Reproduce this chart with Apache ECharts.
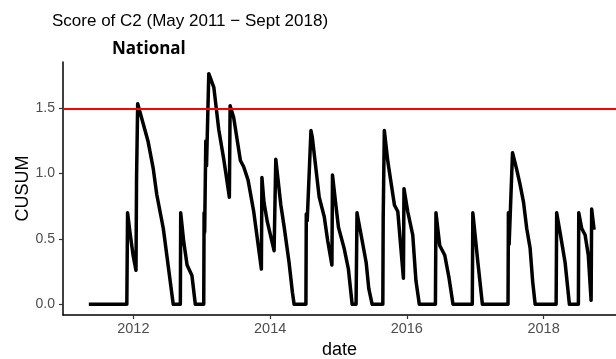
<!DOCTYPE html>
<html>
<head>
<meta charset="utf-8">
<script src="https://cdn.jsdelivr.net/npm/echarts@6/dist/echarts.min.js"></script>
<style>
  html, body { margin: 0; padding: 0; background: #fff; }
  #chart { width: 616px; height: 359px; }
</style>
</head>
<body>
<div id="chart"></div>
<script>
// ---- data ----
const dates = [
  "2011-05-08","2011-11-27","2011-12-01","2011-12-14","2011-12-30","2012-01-15","2012-01-18","2012-01-24",
  "2012-02-23","2012-03-19","2012-04-16","2012-05-05","2012-06-09","2012-08-01","2012-09-08","2012-09-10",
  "2012-09-26","2012-10-14","2012-11-09","2012-11-27","2013-01-11","2013-01-13","2013-01-16","2013-01-22",
  "2013-01-26","2013-02-07","2013-03-06","2013-04-01","2013-04-28","2013-05-28","2013-06-01","2013-06-20",
  "2013-07-26","2013-08-13","2013-09-05","2013-10-05","2013-11-15","2013-11-18","2013-11-29","2013-12-17",
  "2014-01-22","2014-01-31","2014-02-27","2014-03-16","2014-04-12","2014-04-30","2014-05-09","2014-07-11",
  "2014-07-13","2014-07-18","2014-08-07","2014-08-14","2014-09-20","2014-10-17","2014-11-04","2014-11-27",
  "2014-11-30","2014-12-18","2015-01-01","2015-01-31","2015-02-23","2015-03-15","2015-04-05","2015-04-10",
  "2015-05-02","2015-05-29","2015-06-12","2015-06-30","2015-08-26","2015-08-28","2015-09-03","2015-09-22",
  "2015-10-27","2015-11-14","2015-12-14","2015-12-17","2016-01-06","2016-02-02","2016-02-19","2016-03-08",
  "2016-06-02","2016-06-05","2016-06-25","2016-07-22","2016-08-14","2016-09-04","2016-12-16","2016-12-19",
  "2017-01-15","2017-02-08","2017-06-25","2017-06-27","2017-07-01","2017-07-19","2017-08-09","2017-08-28",
  "2017-09-16","2017-10-03","2017-10-21","2017-11-04","2017-11-17","2018-03-09","2018-03-12","2018-03-30",
  "2018-04-26","2018-05-19","2018-07-06","2018-07-08","2018-07-24","2018-08-11","2018-08-28","2018-09-12",
  "2018-09-15","2018-09-28"
];
const cusum = [
  0, 0, 0.70, 0.55, 0.38, 0.26, 0.96, 1.535,
  1.38, 1.25, 1.04, 0.84, 0.58, 0, 0, 0.70,
  0.48, 0.30, 0.22, 0, 0, 0.70, 0.55, 1.25,
  1.06, 1.765, 1.66, 1.34, 1.11, 0.82, 1.52, 1.43,
  1.10, 1.05, 0.95, 0.71, 0.27, 0.97, 0.78, 0.63,
  0.41, 1.11, 0.76, 0.60, 0.32, 0.09, 0, 0,
  0.69, 0.64, 1.33, 1.28, 0.82, 0.67, 0.49, 0.30,
  0.99, 0.76, 0.59, 0.43, 0.27, 0, 0, 0.70,
  0.53, 0.32, 0.12, 0, 0, 0.66, 1.33, 1.09,
  0.76, 0.71, 0.20, 0.885, 0.71, 0.53, 0.18, 0,
  0, 0.70, 0.45, 0.375, 0.20, 0, 0, 0.70,
  0.32, 0, 0, 0.70, 0.46, 1.16, 1.04, 0.92,
  0.78, 0.58, 0.43, 0.17, 0, 0, 0.70, 0.55,
  0.32, 0, 0, 0.70, 0.58, 0.53, 0.375, 0.03,
  0.73, 0.57
];
const threshold = 1.5;
const xTickDates = ["2012-01-01", "2014-01-01", "2016-01-01", "2018-01-01"];
const yTicks = [0, 0.5, 1.0, 1.5];
const titleText = "Score of C2 (May 2011 \u2212 Sept 2018)";
const subtitleText = "National";
const xName = "date";
const yName = "CUSUM";

// ---- chart ----
const ts = s => new Date(s + "T00:00:00Z").getTime();
const seriesData = dates.map((d, i) => [ts(d), cusum[i]]);

const chart = echarts.init(document.getElementById('chart'), null, { renderer: 'canvas' });
const font = "'Liberation Sans', Arial, sans-serif";
chart.setOption({
  animation: false,
  backgroundColor: '#ffffff',
  title: [
    { text: titleText, left: 52, top: 13, padding: 0,
      textStyle: { fontFamily: font, fontSize: 17, fontWeight: 'normal', color: '#000' } },
    { text: subtitleText, left: 112, top: 41, padding: 0,
      textStyle: { fontFamily: "'Open Sans', 'Noto Sans', sans-serif", fontSize: 17, fontWeight: 'bold', color: '#000' } }
  ],
  grid: { left: 63, right: 0, top: 62, bottom: 44, containLabel: false, outerBoundsMode: 'none' },
  xAxis: {
    type: 'value',
    min: ts("2010-12-21"),
    max: ts("2019-01-23"),
    name: xName,
    nameLocation: 'middle',
    nameGap: 26,
    nameMoveOverlap: false,
    nameTextStyle: { fontFamily: font, fontSize: 18, color: '#000' },
    axisLine: { show: true, onZero: false, lineStyle: { color: '#000', width: 1.5 } },
    axisTick: { show: true, customValues: xTickDates.map(ts), length: 4, lineStyle: { color: '#333', width: 1.2 } },
    axisLabel: {
      customValues: xTickDates.map(ts),
      formatter: v => String(new Date(v).getUTCFullYear()),
      fontFamily: font, fontSize: 14.5, color: '#4d4d4d', margin: 6
    },
    splitLine: { show: false }
  },
  yAxis: {
    type: 'value',
    min: -0.082,
    max: 1.854,
    name: yName,
    nameLocation: 'middle',
    nameGap: 31,
    nameMoveOverlap: false,
    nameRotate: 90,
    nameTextStyle: { fontFamily: font, fontSize: 18, color: '#000' },
    axisLine: { show: true, onZero: false, lineStyle: { color: '#000', width: 1.5 } },
    axisTick: { show: true, customValues: yTicks, length: 4, lineStyle: { color: '#333', width: 1.2 } },
    axisLabel: {
      customValues: yTicks,
      formatter: v => v.toFixed(1),
      fontFamily: font, fontSize: 14, color: '#4d4d4d', margin: 8
    },
    splitLine: { show: false }
  },
  series: [{
    type: 'line',
    data: seriesData,
    showSymbol: false,
    symbol: 'none',
    lineStyle: { color: '#000', width: 3.5, join: 'round' },
    z: 3,
    markLine: {
      silent: true,
      symbol: ['none', 'none'],
      label: { show: false },
      lineStyle: { color: '#ff0000', width: 2, type: 'solid' },
      data: [{ yAxis: threshold }],
      z: 4
    }
  }]
});
</script>
</body>
</html>
